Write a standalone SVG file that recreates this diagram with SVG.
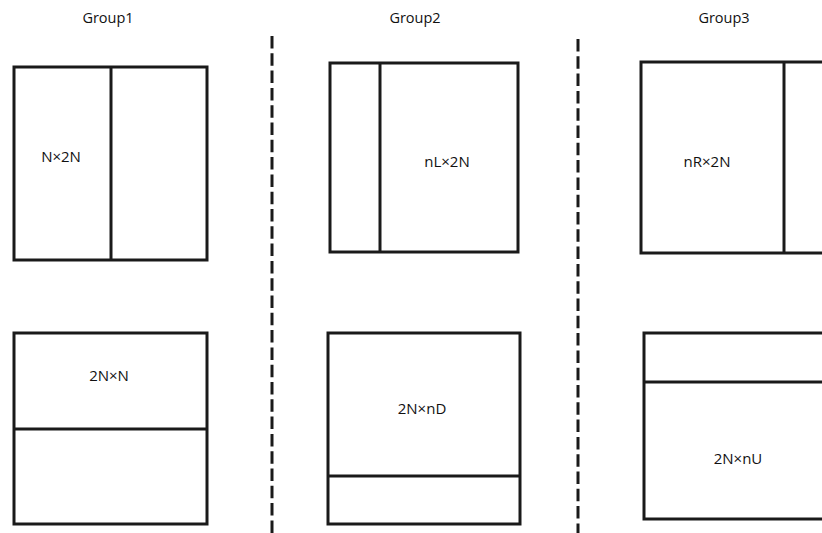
<svg xmlns="http://www.w3.org/2000/svg" width="822" height="533" viewBox="0 0 822 533">
<style>
.box{fill:#fff;stroke:#1a1a1a;stroke-width:3}
.div{stroke:#1a1a1a;stroke-width:3}
.lbl{font-family:"Open Sans","Noto Sans",sans-serif;font-size:15px;fill:#111;text-anchor:middle}
.ttl{font-family:"Open Sans","Noto Sans",sans-serif;font-size:14.5px;fill:#111;text-anchor:middle}
.dash{stroke:#1a1a1a;stroke-width:3;stroke-dasharray:12.5 4.8;fill:none}
</style>
<rect width="822" height="533" fill="#fff"/>
<g id="titles">
<text class="ttl" x="108" y="23">Group1</text>
<text class="ttl" x="415" y="23">Group2</text>
<text class="ttl" x="724" y="23">Group3</text>
</g>
<g id="connectors">
<line class="dash" x1="272" y1="36" x2="272" y2="533"/>
<line class="dash" x1="578" y1="39" x2="578" y2="533"/>
</g>
<g id="n-2nxn-top">
<rect class="box" x="14" y="67" width="193" height="193"/>
<line class="div" x1="111" y1="67" x2="111" y2="260"/>
<text class="lbl" x="61" y="162">N×2N</text>
</g>
<g id="nlx2n">
<rect class="box" x="330" y="63" width="188" height="189"/>
<line class="div" x1="380" y1="63" x2="380" y2="252"/>
<text class="lbl" x="447" y="167">nL×2N</text>
</g>
<g id="nrx2n">
<rect class="box" x="641" y="62" width="195" height="191"/>
<line class="div" x1="784" y1="62" x2="784" y2="253"/>
<text class="lbl" x="707" y="167">nR×2N</text>
</g>
<g id="2nxn">
<rect class="box" x="14" y="333" width="193" height="191"/>
<line class="div" x1="14" y1="429" x2="207" y2="429"/>
<text class="lbl" x="109" y="381">2N×N</text>
</g>
<g id="2nxnd">
<rect class="box" x="328" y="333" width="192" height="191"/>
<line class="div" x1="328" y1="476" x2="520" y2="476"/>
<text class="lbl" x="422" y="414">2N×nD</text>
</g>
<g id="2nxnu">
<rect class="box" x="644" y="333" width="195" height="186"/>
<line class="div" x1="644" y1="382" x2="839" y2="382"/>
<text class="lbl" x="738" y="464">2N×nU</text>
</g>
</svg>
